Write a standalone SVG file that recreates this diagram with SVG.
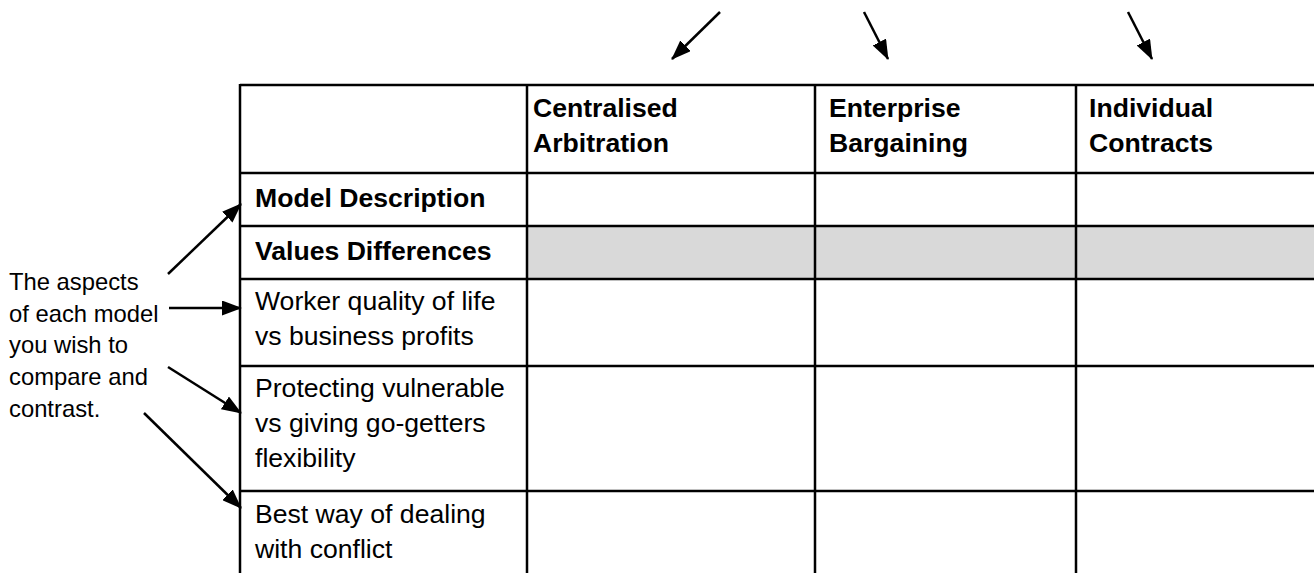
<svg xmlns="http://www.w3.org/2000/svg" width="1314" height="573" viewBox="0 0 1314 573">
<style>
.t{font-family:"Liberation Sans",Arial,sans-serif;font-size:26.6px;fill:#000}
.b{font-weight:bold}
.a{font-family:"Liberation Sans",Arial,sans-serif;font-size:23.8px;fill:#000}
.g{stroke:#000;stroke-width:2.5;fill:none}
.c{stroke:#000;stroke-width:2.5;fill:none;marker-end:url(#ah)}
</style>
<defs>
<marker id="ah" viewBox="0 0 20 15" refX="19" refY="7.5" markerWidth="20" markerHeight="15" markerUnits="userSpaceOnUse" orient="auto">
<path d="M0,0 L20,7.5 L0,15 Z" fill="#000"/>
</marker>
</defs>
<rect width="1314" height="573" fill="#fff"/>
<g id="table">
<rect x="527" y="226" width="787" height="53" fill="#d9d9d9"/>
<path class="g" d="M240,85 H1314 M240,173 H1314 M240,226 H1314 M240,279 H1314 M240,366 H1314 M240,491 H1314 M240,84 V573 M527,84 V573 M815,84 V573 M1076,84 V573"/>
</g>
<g id="header">
<text class="t b" x="533" y="117">Centralised</text>
<text class="t b" x="533" y="152">Arbitration</text>
<text class="t b" x="829" y="117">Enterprise</text>
<text class="t b" x="829" y="152">Bargaining</text>
<text class="t b" x="1089" y="117">Individual</text>
<text class="t b" x="1089" y="152">Contracts</text>
</g>
<g id="row-model"><text class="t b" x="255" y="207">Model Description</text></g>
<g id="row-values"><text class="t b" x="255" y="260">Values Differences</text></g>
<g id="row-worker"><text class="t" x="255" y="310">Worker quality of life</text><text class="t" x="255" y="345">vs business profits</text></g>
<g id="row-protect"><text class="t" x="255" y="397">Protecting vulnerable</text><text class="t" x="255" y="432">vs giving go-getters</text><text class="t" x="255" y="467">flexibility</text></g>
<g id="row-best"><text class="t" x="255" y="523">Best way of dealing</text><text class="t" x="255" y="558">with conflict</text></g>
<g id="note"><text class="a" x="9" y="290">The aspects</text><text class="a" x="9" y="321.5">of each model</text><text class="a" x="9" y="353">you wish to</text><text class="a" x="9" y="385">compare and</text><text class="a" x="9" y="416.5">contrast.</text></g>
<g id="connectors">
<path class="c" d="M720,12 L672,59"/>
<path class="c" d="M864,12 L888,59"/>
<path class="c" d="M1128,12 L1152,59"/>
<path class="c" d="M168,274 L241,204"/>
<path class="c" d="M169,308 L241,308"/>
<path class="c" d="M168,367 L241,413"/>
<path class="c" d="M144,413 L241,508"/>
</g>
</svg>
